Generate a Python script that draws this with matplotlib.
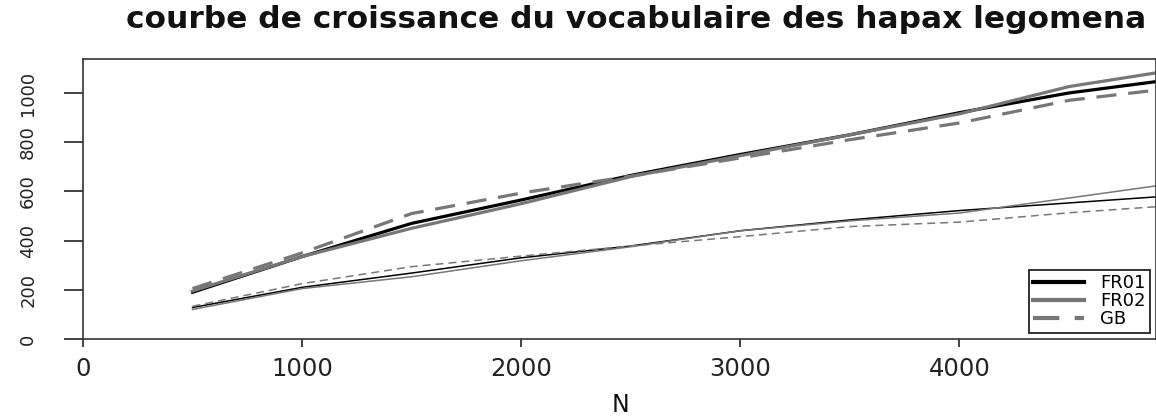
import matplotlib
matplotlib.use("Agg")
import matplotlib.pyplot as plt
import numpy as np

# taille du texte N
N = [500, 1000, 1500, 2000, 2500, 3000, 3500, 4000, 4500, 5000]

# vocabulaire V(N)
v_fr01 = [190, 335, 470, 565, 665, 750, 830, 920, 1000, 1058]
v_fr02 = [195, 335, 450, 550, 660, 745, 830, 915, 1026, 1096]
v_gb = [205, 350, 510, 593, 662, 736, 810, 878, 970, 1022]

# hapax legomena V1(N)
h_fr01 = [128, 210, 268, 330, 378, 440, 484, 522, 553, 584]
h_fr02 = [120, 205, 253, 318, 375, 440, 480, 512, 573, 635]
h_gb = [133, 225, 294, 337, 378, 416, 457, 475, 513, 544]

labels = ["FR01", "FR02", "GB"]
xticks = [0, 1000, 2000, 3000, 4000]
yticks = [0, 200, 400, 600, 800, 1000]

W, H = 1156, 419
fig = plt.figure(figsize=(W / 100, H / 100), dpi=100)
ax = fig.add_axes([83 / W, (H - 339) / H, 1 - 83 / W, 280 / H])

gray = "#777777"
ax.plot(N, v_fr01, color="black", lw=2.3, label=labels[0])
ax.plot(N, v_fr02, color=gray, lw=2.3, label=labels[1])
ax.plot(N, v_gb, color=gray, lw=2.3, ls=(0, (6.3, 3.7)), label=labels[2])
ax.plot(N, h_fr01, color="black", lw=1.1)
ax.plot(N, h_fr02, color=gray, lw=1.1)
ax.plot(N, h_gb, color=gray, lw=1.1, ls=(0, (5.2, 3.3)))

ax.set_xlim(0, 4897)
ax.set_ylim(0, 1138)
ax.set_xticks(xticks)
ax.set_yticks(yticks)
ax.set_xticklabels([str(t) for t in xticks], fontsize=17.5)
ax.set_yticklabels([str(t) for t in yticks], fontsize=13, rotation=90, va="center")
ax.tick_params(axis="x", length=6, width=1.2, pad=7, colors="#222222")
ax.tick_params(axis="y", length=14, width=1.2, pad=19, colors="#222222")
for s in ax.spines.values():
    s.set_color("#333333")
    s.set_linewidth(1.2)

leg = ax.legend(loc="lower right", bbox_to_anchor=(1150 / W, (H - 333) / H),
                bbox_transform=fig.transFigure, fontsize=13, labelspacing=0.0,
                handlelength=2.8, handletextpad=0.9, borderpad=0.25,
                borderaxespad=0, fancybox=False, framealpha=1)
leg.get_frame().set_edgecolor("#222222")
leg.get_frame().set_linewidth(1.3)
for line in leg.get_lines():
    line.set_linewidth(3)

fig.text(636 / W, 1 - 19 / H, "courbe de croissance du vocabulaire des hapax legomena",
         ha="center", va="center", fontsize=22.5, fontweight="bold", color="#111111")
fig.text(620 / W, 1 - 405 / H, "N", ha="center", va="center", fontsize=17, color="#111111")

fig.savefig("out.png", dpi=100)
